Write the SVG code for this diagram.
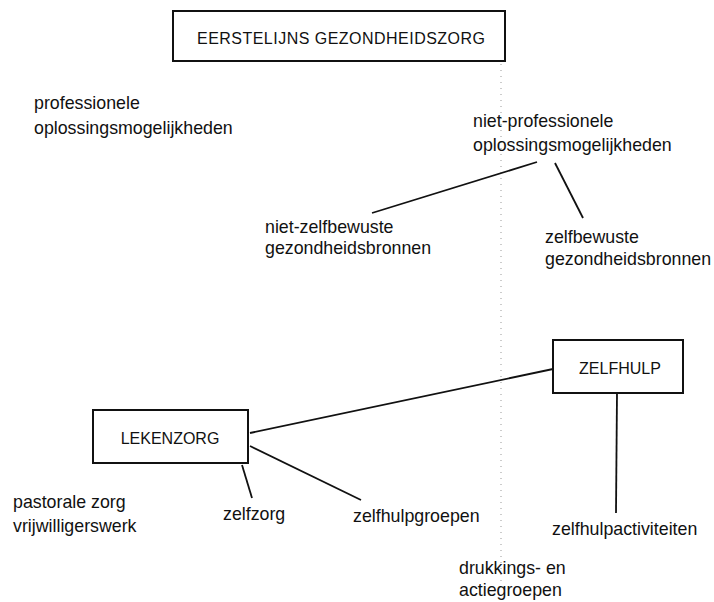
<svg xmlns="http://www.w3.org/2000/svg" width="714" height="602" viewBox="0 0 714 602">
<style>
text{font-family:"Liberation Sans",Arial,sans-serif;font-size:17.8px;fill:#111}
.cap{font-size:16px}
.box{fill:#fff;stroke:#111;stroke-width:2}
.ln{stroke:#111;stroke-width:1.8;fill:none}
.div{stroke:#999;stroke-width:1;stroke-dasharray:1 5;fill:none}
</style>
<rect width="714" height="602" fill="#fff"/>
<g id="divider"><line class="div" x1="501" y1="64" x2="501" y2="585"/></g>
<g id="connectors">
<line class="ln" x1="537" y1="162" x2="372" y2="213"/>
<line class="ln" x1="555" y1="163" x2="583" y2="218"/>
<line class="ln" x1="250" y1="433" x2="553" y2="369"/>
<line class="ln" x1="250" y1="446" x2="361" y2="500"/>
<line class="ln" x1="242" y1="465" x2="252" y2="498"/>
<line class="ln" x1="617" y1="393" x2="616" y2="513"/>
</g>
<g id="eerstelijns"><rect class="box" x="173" y="11" width="332" height="50"/><text class="cap" x="341" y="44" text-anchor="middle" textLength="288">EERSTELIJNS GEZONDHEIDSZORG</text></g>
<g id="professionele"><text x="34" y="109">professionele</text><text x="34" y="134">oplossingsmogelijkheden</text></g>
<g id="niet-professionele"><text x="473" y="127">niet-professionele</text><text x="473" y="151">oplossingsmogelijkheden</text></g>
<g id="niet-zelfbewuste"><text x="265" y="233">niet-zelfbewuste</text><text x="265" y="254">gezondheidsbronnen</text></g>
<g id="zelfbewuste"><text x="545" y="243">zelfbewuste</text><text x="545" y="265">gezondheidsbronnen</text></g>
<g id="zelfhulp"><rect class="box" x="553" y="340" width="130" height="53"/><text class="cap" x="620" y="374" text-anchor="middle">ZELFHULP</text></g>
<g id="lekenzorg"><rect class="box" x="93" y="410" width="155" height="53"/><text class="cap" x="170" y="444" text-anchor="middle">LEKENZORG</text></g>
<g id="pastorale"><text x="13" y="508">pastorale zorg</text><text x="13" y="532">vrijwilligerswerk</text></g>
<g id="zelfzorg"><text x="223" y="520">zelfzorg</text></g>
<g id="zelfhulpgroepen"><text x="353" y="522">zelfhulpgroepen</text></g>
<g id="zelfhulpactiviteiten"><text x="552" y="535">zelfhulpactiviteiten</text></g>
<g id="drukkings"><text x="459" y="574">drukkings- en</text><text x="459" y="596">actiegroepen</text></g>
</svg>
